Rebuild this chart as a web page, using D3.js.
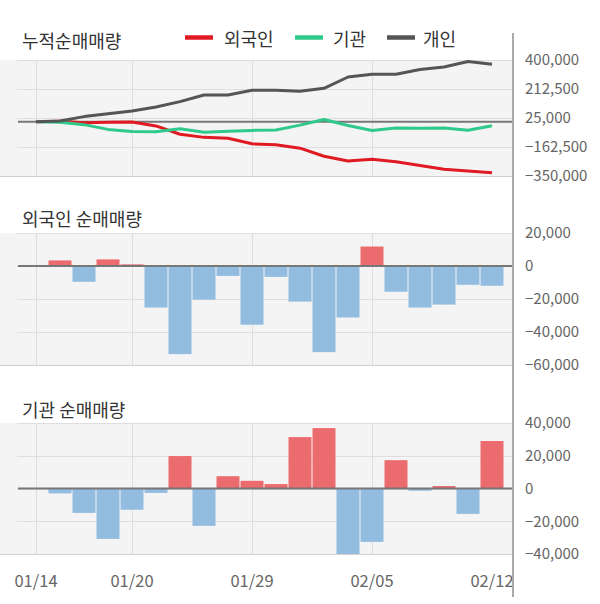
<!DOCTYPE html>
<html><head><meta charset="utf-8">
<script src="https://cdn.jsdelivr.net/npm/d3@7"></script>
<style>body{margin:0;background:#fff}svg{display:block}text{font-family:"Noto Sans CJK KR","Noto Sans",sans-serif}</style>
</head><body><svg id="c" width="600" height="604"></svg>
<script>
const dates = ["01/14","01/15","01/16","01/17","01/20","01/21","01/22","01/23","01/28","01/29","01/30","01/31","02/03","02/04","02/05","02/06","02/07","02/10","02/11","02/12"];
const tickDates = ["01/14","01/20","01/29","02/05","02/12"];
const gridDates = ["01/14","01/20","01/29","02/05"];
const foreignCum = [0,3400,-6200,-2200,-1200,-26400,-79800,-100200,-106200,-141800,-148400,-170000,-222200,-253400,-241600,-257200,-282400,-305800,-317200,-329200];
const instCum = [0,-3000,-17900,-48700,-61700,-64400,-44600,-67400,-59900,-55200,-52500,-21100,15800,-23800,-56400,-39100,-40500,-39100,-54600,-25600];
const personCum = [0,5000,34000,53000,70000,96000,131000,174000,174000,204000,204000,198000,217000,290000,308000,308000,338000,355000,390000,372000];
const foreignDaily = [0,3400,-9600,4000,1000,-25200,-53400,-20400,-6000,-35600,-6600,-21600,-52200,-31200,11800,-15600,-25200,-23400,-11400,-12000];
const instDaily = [0,-3000,-14900,-30800,-13000,-2700,19800,-22800,7500,4700,2700,31400,36900,-41000,-32600,17300,-1400,1500,-15500,29000];
const cumTicks = [400000,212500,25000,-162500,-350000];
const foreignTicks = [20000,0,-20000,-40000,-60000];
const instTicks = [40000,20000,0,-20000,-40000];
const seriesNames = ["외국인","기관","개인"];
const seriesColors = ["#e01a22","#2ec98b","#555555"];
const titles = ["누적순매매량","외국인 순매매량","기관 순매매량"];

const svg = d3.select("#c");
const x = d3.scalePoint().domain(dates).range([36,492]);
const AX = 513, GL = 17;
const fmt = d3.format(",");

function panel(top, bottom, domain, ticks) {
  const y = d3.scaleLinear().domain(domain).range([bottom, top]);
  const g = svg.append("g");
  g.append("rect").attr("x",0).attr("y",top).attr("width",AX).attr("height",bottom-top).attr("fill","#f4f4f4");
  ticks.forEach(t => {
    const yy = Math.round(y(t))+0.5;
    g.append("line").attr("x1", yy > bottom-1 ? 0 : GL).attr("x2",AX).attr("y1",yy).attr("y2",yy)
      .attr("stroke", yy > bottom-1 ? "#cfcfcf" : "#dedede").attr("stroke-width",1);
  });
  gridDates.forEach(d => {
    const xx = Math.round(x(d))+0.5;
    g.append("line").attr("x1",xx).attr("x2",xx).attr("y1",top).attr("y2",bottom).attr("stroke","#dedede");
  });
  const ax = d3.axisRight(y).tickValues(ticks).tickSize(0).tickPadding(12).tickFormat(fmt);
  const a = svg.append("g").attr("transform",`translate(${AX},0)`).call(ax);
  a.select(".domain").remove();
  a.selectAll("text").attr("font-size",15).attr("fill","#666").attr("font-family","'Noto Sans CJK KR','Noto Sans',sans-serif");
  return {y, g};
}

// titles
[[40,titles[0]],[218,titles[1]],[409,titles[2]]].forEach(([yy,t]) => {
  svg.append("text").attr("x",22).attr("y",yy).attr("dominant-baseline","central")
    .attr("font-size",18).attr("fill","#333").text(t);
});

// legend
const legX = [185,295,387], legTX = [224,333,423];
seriesNames.forEach((n,i) => {
  svg.append("line").attr("x1",legX[i]).attr("x2",legX[i]+28).attr("y1",37.5).attr("y2",37.5)
    .attr("stroke",seriesColors[i]).attr("stroke-width",4.5);
  svg.append("text").attr("x",legTX[i]).attr("y",38).attr("dominant-baseline","central")
    .attr("font-size",18).attr("fill","#333").text(n);
});

// top panel
const p1 = panel(60,176,[-350000,400000],cumTicks);
p1.g.append("line").attr("x1",18).attr("x2",AX).attr("y1",p1.y(0)).attr("y2",p1.y(0)).attr("stroke","#777").attr("stroke-width",2);
const line = d3.line().x((d,i)=>x(dates[i])).y(d=>p1.y(d));
[foreignCum, instCum, personCum].forEach((s,i) => {
  p1.g.append("path").attr("d",line(s)).attr("fill","none").attr("stroke",seriesColors[i])
    .attr("stroke-width",3).attr("stroke-linejoin","round");
});

function bars(p, data, top, bottom, id) {
  svg.append("clipPath").attr("id",id).append("rect").attr("x",0).attr("y",top).attr("width",AX).attr("height",bottom-top);
  const bg = p.g.append("g").attr("clip-path",`url(#${id})`);
  bg.selectAll("rect").data(data.map((v,i)=>({v,d:dates[i]})).filter(o=>o.v!==0)).join("rect")
    .attr("x",o=>x(o.d)-11.5).attr("width",23)
    .attr("y",o=>Math.min(p.y(o.v),p.y(0))).attr("height",o=>Math.abs(p.y(o.v)-p.y(0)))
    .attr("fill",o=>o.v>0?"#eb6b6f":"#92bde0");
  p.g.append("line").attr("x1",18).attr("x2",AX).attr("y1",p.y(0)).attr("y2",p.y(0)).attr("stroke","#777").attr("stroke-width",2);
}
const p2 = panel(233,365,[-60000,20000],foreignTicks);
bars(p2, foreignDaily, 233, 365, "c2");
const p3 = panel(423,554,[-40000,40000],instTicks);
bars(p3, instDaily, 423, 554, "c3");

// x labels
tickDates.forEach(d => {
  svg.append("text").attr("x",x(d)).attr("y",580).attr("text-anchor","middle").attr("dominant-baseline","central")
    .attr("font-size",16.5).attr("fill","#666").text(d);
});

// right axis line
svg.append("line").attr("x1",AX).attr("x2",AX).attr("y1",33).attr("y2",597).attr("stroke","#aaa").attr("stroke-width",2);
</script></body></html>
